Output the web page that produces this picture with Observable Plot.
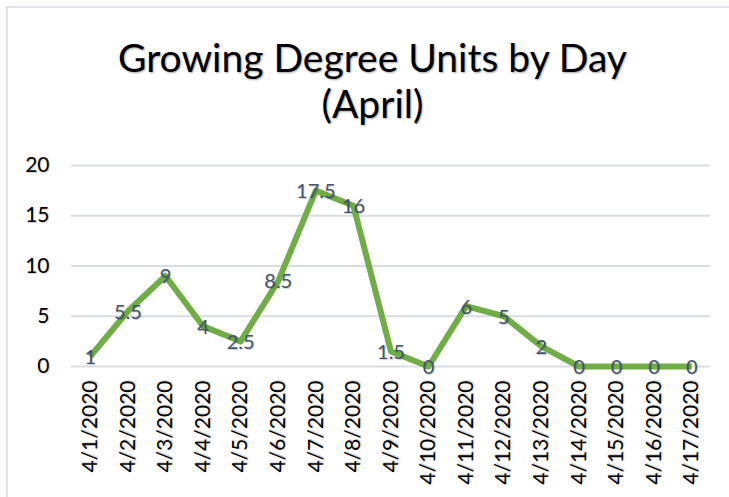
<!DOCTYPE html>
<html>
<head>
<meta charset="utf-8">
<script src="https://cdn.jsdelivr.net/npm/d3@7"></script>
<script src="https://cdn.jsdelivr.net/npm/@observablehq/plot@0.6"></script>
<style>
  html, body { margin: 0; padding: 0; background: #fff; }
  #wrap { position: relative; width: 729px; height: 497px; overflow: hidden; font-family: Lato, "Open Sans", sans-serif; }
  #frame { position: absolute; left: 6px; top: 6px; width: 760px; height: 520px; border-left: 2px solid #dfe3e8; border-top: 2px solid #dfe3e8; }
  #title { position: absolute; left: 0; width: 745px; top: 34px; text-align: center; font-size: 39px; line-height: 46px; color: #000; text-shadow: 1px 1px 2px rgba(0,0,0,0.35); }
  #chart { position: absolute; left: 0; top: 130px; }
  #chart svg text { text-shadow: 1px 1px 1px rgba(0,0,0,0.2); }
</style>
</head>
<body>
<div id="wrap">
  <div id="frame"></div>
  <div id="title">Growing Degree Units by Day<br>(April)</div>
  <div id="chart"></div>
</div>
<script>
const dates = ["4/1/2020","4/2/2020","4/3/2020","4/4/2020","4/5/2020","4/6/2020","4/7/2020","4/8/2020","4/9/2020","4/10/2020","4/11/2020","4/12/2020","4/13/2020","4/14/2020","4/15/2020","4/16/2020","4/17/2020"];
const gdu = [1, 5.5, 9, 4, 2.5, 8.5, 17.5, 16, 1.5, 0, 6, 5, 2, 0, 0, 0, 0];
const yTicks = [0, 5, 10, 15, 20];

const data = dates.map((d, i) => ({date: d, value: gdu[i]}));

const chart = Plot.plot({
  width: 729,
  height: 367,
  marginTop: 35,
  marginBottom: 131,
  marginLeft: 71,
  marginRight: 19,
  style: {fontFamily: "Lato, 'Open Sans', sans-serif", background: "transparent", overflow: "visible"},
  x: {type: "point", domain: dates, padding: 0.5, round: false, label: null},
  y: {domain: [0, 20], label: null},
  marks: [
    Plot.gridY(yTicks, {stroke: "#d9dde3", strokeOpacity: 1, strokeWidth: 2}),
    Plot.axisY(yTicks, {tickSize: 0, tickPadding: 22, fontSize: 21, fill: "#000", label: null}),
    Plot.axisX({tickSize: 0, tickRotate: -90, tickPadding: 14, fontSize: 21, fill: "#000", label: null}),
    Plot.line(data, {x: "date", y: "value", stroke: "#70ad47", strokeWidth: 6, strokeLinejoin: "round", strokeLinecap: "butt"}),
    Plot.text(data, {x: "date", y: "value", text: d => String(d.value), fill: "#44546a", fontSize: 20, dy: 1})
  ]
});
document.getElementById("chart").appendChild(chart);
</script>
</body>
</html>
